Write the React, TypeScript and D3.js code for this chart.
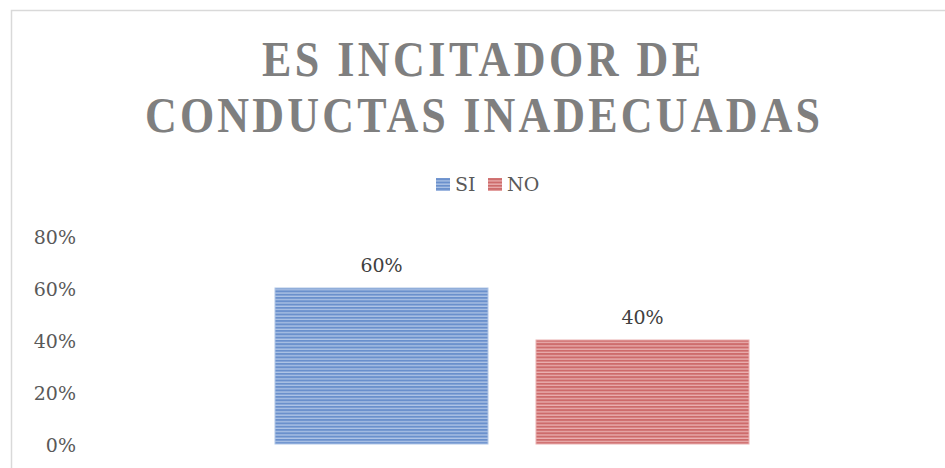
import React from "react";
import * as d3 from "d3";

const titleLines = ["ES INCITADOR DE", "CONDUCTAS INADECUADAS"];
const categories = ["SI", "NO"];
const values = [0.6, 0.4];
const baseColors = ["#6a90cc", "#cd6b6b"];
const lightColors = ["#afc5e6", "#eab0b0"];
const yTicks = [0, 0.2, 0.4, 0.6, 0.8];

const W = 945;
const H = 468;
const TFONT = "'Liberation Serif', 'DejaVu Serif', serif";
const LFONT = "'DejaVu Serif', 'Liberation Serif', serif";

export default function App() {
  const y = d3.scaleLinear().domain([0, 0.8]).range([444, 236]);
  const x = d3
    .scaleBand<string>()
    .domain(categories)
    .range([275, 749])
    .paddingInner(0.184)
    .paddingOuter(0);
  const pct = d3.format(".0%");
  const sx = 0.88;
  const titleSpecs = [
    { cx: 481.5, base: 76, len: 439 },
    { cx: 482.5, base: 132, len: 675 },
  ];

  return (
    <svg
      width={W}
      height={H}
      style={{ position: "absolute", left: 0, top: 0, background: "#fff" }}
    >
      <defs>
        {categories.map((c, i) => (
          <pattern
            key={c}
            id={`stripe-${i}`}
            patternUnits="userSpaceOnUse"
            width={6}
            height={3.3}
          >
            <rect width={6} height={3.3} fill={baseColors[i]} />
            <rect y={2} width={6} height={1.3} fill={lightColors[i]} />
          </pattern>
        ))}
      </defs>
      <rect
        x={11.5}
        y={10.5}
        width={980}
        height={500}
        fill="#fff"
        stroke="#d9d9d9"
        strokeWidth={1.5}
      />
      {/* title */}
      {titleLines.map((line, i) => (
        <g
          key={line}
          transform={`translate(${titleSpecs[i].cx},${titleSpecs[i].base}) scale(${sx},1)`}
        >
          <text
            x={0}
            y={0}
            textAnchor="middle"
            fontFamily={TFONT}
            fontWeight="bold"
            fontSize={50}
            fill="#7f7f7f"
            textLength={titleSpecs[i].len / sx}
            lengthAdjust="spacing"
          >
            {line}
          </text>
        </g>
      ))}
      {/* legend */}
      <g fontFamily={LFONT} fontSize={19} fill="#595959">
        <rect x={436} y={178} width={14} height={13} fill={`url(#stripe-0)`} />
        <text x={455} y={191}>{categories[0]}</text>
        <rect x={488} y={178} width={14} height={13} fill={`url(#stripe-1)`} />
        <text x={507} y={191}>{categories[1]}</text>
      </g>
      {/* y axis labels */}
      <g fontFamily={LFONT} fontSize={19} fill="#595959">
        {yTicks.map((t) => (
          <text key={t} x={76} y={y(t) + 8} textAnchor="end">
            {pct(t)}
          </text>
        ))}
      </g>
      {/* bars */}
      {categories.map((c, i) => (
        <g key={c}>
          <rect
            x={x(c)}
            y={y(values[i])}
            width={x.bandwidth()}
            height={y(0) - y(values[i])}
            fill={`url(#stripe-${i})`}
            stroke={lightColors[i]}
            strokeWidth={1}
          />
          <text
            x={(x(c) as number) + x.bandwidth() / 2}
            y={y(values[i]) - 16}
            textAnchor="middle"
            fontFamily={LFONT}
            fontSize={19}
            fill="#404040"
          >
            {pct(values[i])}
          </text>
        </g>
      ))}
    </svg>
  );
}
